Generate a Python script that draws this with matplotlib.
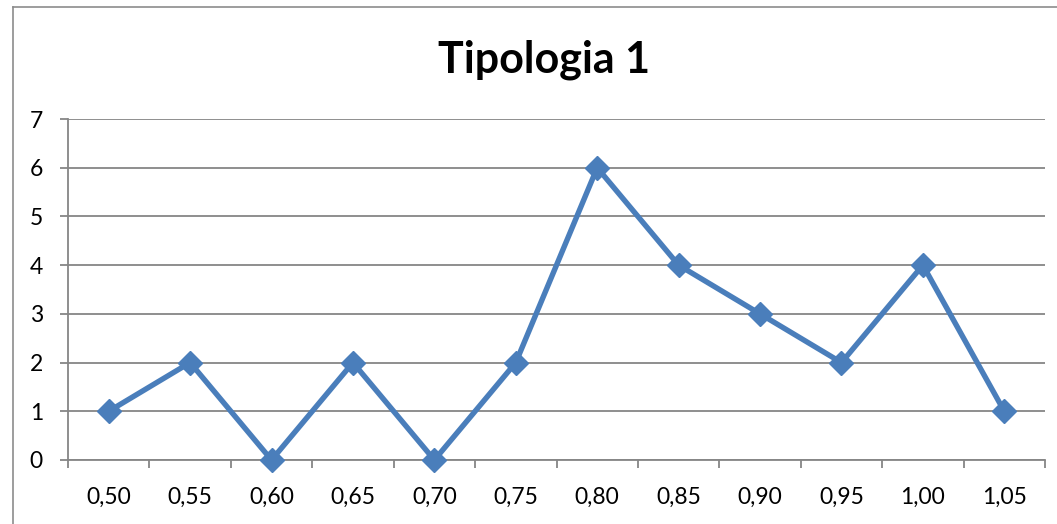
import matplotlib
matplotlib.use("Agg")
import matplotlib.pyplot as plt
from matplotlib.lines import Line2D

categories = ["0,50", "0,55", "0,60", "0,65", "0,70", "0,75", "0,80", "0,85", "0,90", "0,95", "1,00", "1,05"]
values = [1, 2, 0, 2, 0, 2, 6, 4, 3, 2, 4, 1]
yticks = [0, 1, 2, 3, 4, 5, 6, 7]
title = "Tipologia 1"

W, H = 1057, 524
fig = plt.figure(figsize=(W / 100, H / 100), dpi=100)
plt.rcParams['font.family'] = ['Lato', 'DejaVu Sans']

# chart area border (left and top visible)
gray_border = "#8c8c8c"
fig.add_artist(Line2D([13 / W, 13 / W], [0, 1 - 7 / H], color=gray_border, lw=1.2, transform=fig.transFigure))
fig.add_artist(Line2D([13 / W, 1], [1 - 7 / H, 1 - 7 / H], color=gray_border, lw=1.2, transform=fig.transFigure))

left, right, top, bottom = 68, 1045, 119, 460
ax = fig.add_axes([left / W, 1 - bottom / H, (right - left) / W, (bottom - top) / H])

n = len(categories)
x = list(range(n))
ax.set_xlim(-0.5, n - 0.5)
ax.set_ylim(0, 7)

grid_c = "#868686"
for yv in yticks:
    ax.axhline(yv, color=grid_c, lw=1.3, zorder=1)

ax.plot(x, values, color="#4A7EBB", lw=3.9, marker="D", markersize=12.5,
        markerfacecolor="#4A7EBB", markeredgecolor="#4A7EBB", zorder=3, clip_on=False)

for s in ["top", "right"]:
    ax.spines[s].set_visible(False)
for s in ["left", "bottom"]:
    ax.spines[s].set_color(grid_c)
    ax.spines[s].set_linewidth(1.3)

ax.set_yticks(yticks)
ax.set_yticklabels([str(v) for v in yticks])
ax.set_xticks([i - 0.5 for i in range(n + 1)], minor=False)
ax.set_xticklabels([""] * (n + 1))
ax.set_xticks(x, minor=True)
ax.set_xticklabels(categories, minor=True)
ax.tick_params(axis="x", which="major", length=6, width=1.3, color=grid_c, direction="out")
ax.tick_params(axis="x", which="minor", length=0, pad=19, labelsize=16.5)
ax.tick_params(axis="y", length=6, width=1.3, color=grid_c, direction="out", pad=12, labelsize=16.5)

fig.text((437 + 652) / 2 / W, 1 - 60 / H, title, ha="center", va="center",
         fontsize=31, fontweight="bold")

fig.savefig("out.png", dpi=100)
